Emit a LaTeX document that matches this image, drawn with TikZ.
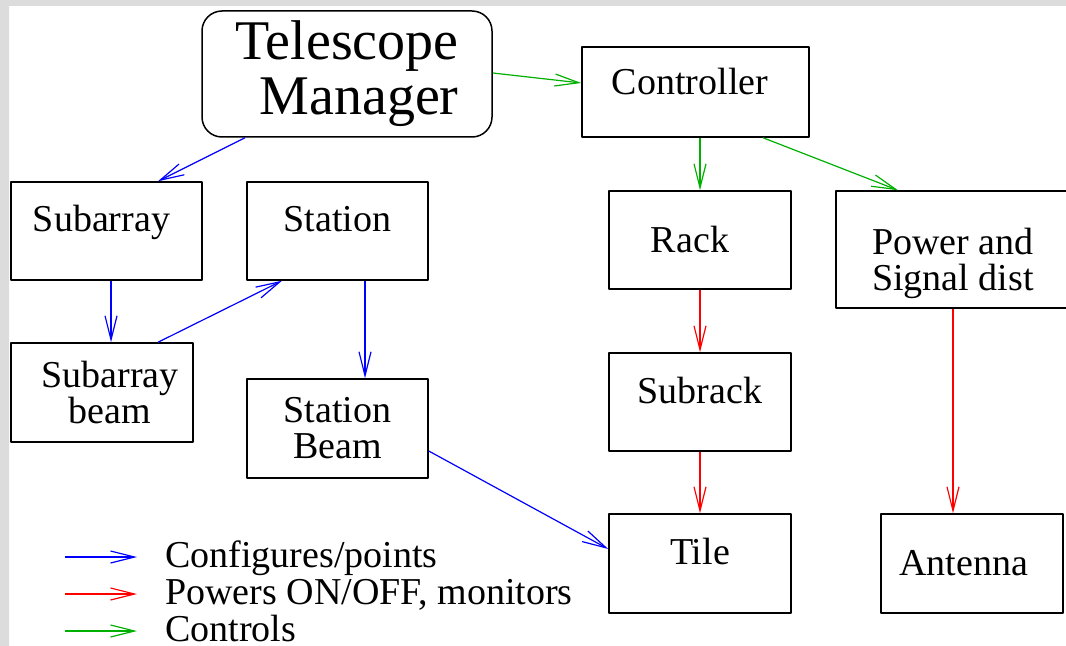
\documentclass[tikz,border=0pt]{standalone}
\usepackage{fontspec}
\newfontfamily\figfont{Liberation Serif}
\usetikzlibrary{arrows.meta,calc}
\definecolor{figgreen}{RGB}{0,176,0}
\definecolor{edgegray}{RGB}{220,220,220}
\tikzset{
  box/.style={draw, line width=1.5bp, minimum width=182bp, minimum height=98bp,
    inner sep=0pt, align=center},
  lift/.style={text height=0.7em, text depth=#1},
  cfg/.style={->, blue, line width=1.2bp},
  pwr/.style={->, red, line width=1.2bp},
  ctl/.style={->, figgreen, line width=1.2bp}
}
\begin{document}
\begin{tikzpicture}
[x=1bp, y=-1bp, font=\fontsize{38bp}{36bp}\selectfont\figfont, line join=round,
 >={Straight Barb[length=24bp,width=12bp]}]
\useasboundingbox (0,0) rectangle (1066,646);
\fill[edgegray] (0,0) rectangle (1066,6) (0,0) rectangle (9,646);
% boxes
\node[box, rounded corners=20bp, minimum width=290bp, minimum height=126bp, align=right,
  font=\fontsize{56bp}{55bp}\selectfont\figfont] (tm) at (347,74) {Telescope\\Manager};
\node[box, lift=0.17em, minimum width=227bp, minimum height=90bp] (ctrl) at (695.5,92) {Controller\hspace*{11bp}};
\node[box, lift=0.5em, minimum width=191bp] (subarray) at (106.5,231) {Subarray\hspace*{10bp}};
\node[box, lift=0.5em, minimum width=181bp] (station) at (337.5,231) {Station};
\node[box, minimum height=99bp] (sabeam) at (102,392.5) {\hspace*{16bp}Subarray\\\hspace*{16bp}beam};
\node[box, minimum width=181bp, minimum height=99bp] (stbeam) at (337.5,428.5) {Station\\Beam};
\node[box] (rack) at (700,240) {Rack\hspace*{20bp}};
\node[box, text height=81bp, text depth=0pt, minimum width=234bp, minimum height=117bp]
  (power) at (953,249.5) {Power and\\Signal dist};
\node[box, lift=0.44em] (subrack) at (700,402) {Subrack};
\node[box, lift=0.46em, minimum height=99bp] (tile) at (700,563.5) {Tile};
\node[box, minimum height=99bp] (antenna) at (972,563.5) {Antenna\hspace*{17bp}};
% configures/points
\draw[cfg] ($(tm.south)+(-102,0)$) -- ($(subarray.north)+(51.5,0)$);
\draw[cfg] ($(subarray.south)+(4.5,0)$) coordinate (s1) -- (s1 |- sabeam.north);
\draw[cfg] ($(sabeam.north)+(56,0)$) -- ($(station.south)+(-55.5,0)$);
\draw[cfg] ($(station.south)+(27.5,0)$) coordinate (s2) -- (s2 |- stbeam.north);
\draw[cfg] ($(stbeam.east)+(0,22.5)$) -- ($(tile.west)+(0,-14.5)$);
% controls
\draw[ctl] ($(tm.east)+(0,-1)$) -- ($(ctrl.west)+(0,-9)$);
\draw[ctl] (rack.north |- ctrl.south) -- (rack.north);
\draw[ctl] ($(ctrl.south)+(67.5,0)$) -- ($(power.north)+(-55,0)$);
% powers on/off
\draw[pwr] (rack) -- (subrack);
\draw[pwr] (subrack) -- (tile);
\draw[pwr] (power.south) -- (power.south |- antenna.north);
% legend
\foreach \i/\s/\y/\t in {1/cfg/557/{Configures/points}, 2/pwr/594/{Powers ON/OFF, monitors},
  3/ctl/631/{Controls}}{
  \coordinate (la\i) at (65,\y);
  \coordinate (lb\i) at (137,\y);
  \draw[\s] (la\i) -- (lb\i);
  \node[anchor=base west, inner sep=0pt] (lt\i) at (165,\y+10) {\t};
}
\end{tikzpicture}
\end{document}
